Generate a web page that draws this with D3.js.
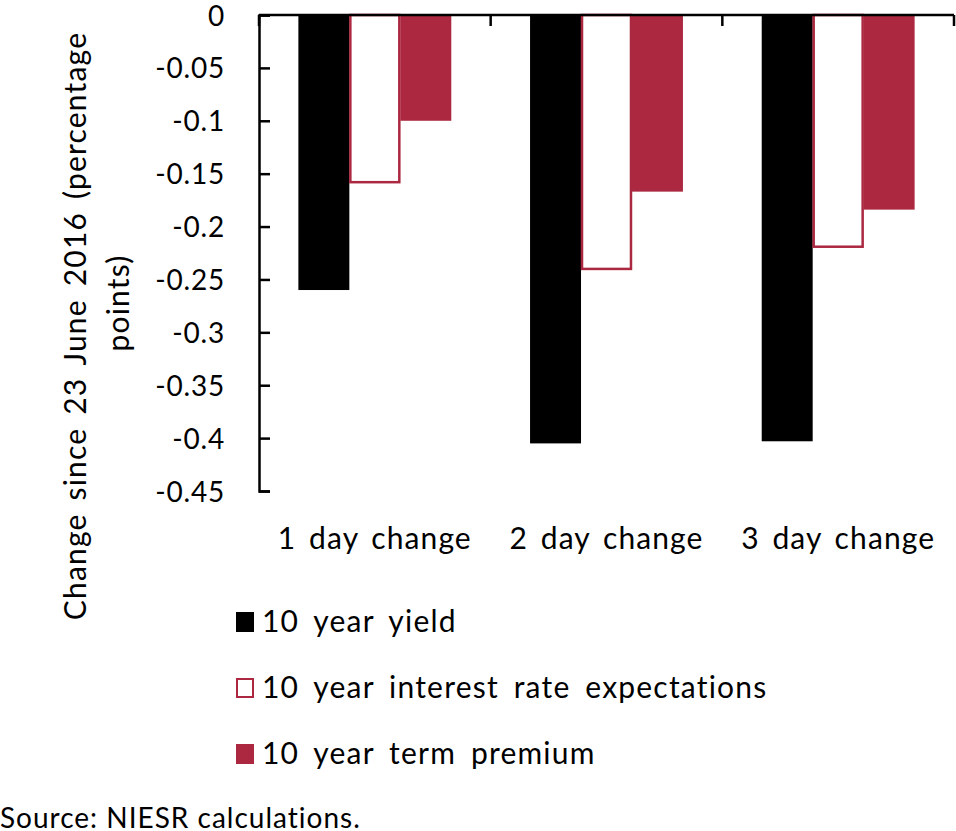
<!DOCTYPE html>
<html>
<head>
<meta charset="utf-8">
<script src="https://cdn.jsdelivr.net/npm/d3@7"></script>
<style>
  body { margin: 0; background: #fff; }
  text { font-family: Lato, "Open Sans", sans-serif; fill: #000; }
</style>
</head>
<body>
<div id="chart"></div>
<script>
// data
const categories = ["1 day change", "2 day change", "3 day change"];
const seriesNames = ["10 year yield", "10 year interest rate expectations", "10 year term premium"];
const yieldVals = [-0.26, -0.405, -0.403];
const expectVals = [-0.159, -0.241, -0.220];
const premiumVals = [-0.100, -0.167, -0.184];
const yTicks = [0, -0.05, -0.1, -0.15, -0.2, -0.25, -0.3, -0.35, -0.4, -0.45];

const red = "#AB2840";
const fills = ["#000000", "#ffffff", red];

const W = 956, H = 831;
const margin = {top: 15, right: 2, bottom: 340, left: 259};
const width = W - margin.left - margin.right,
    height = H - margin.top - margin.bottom;

const svg = d3.select("#chart")
  .append("svg")
    .attr("width", W)
    .attr("height", H);

const g = svg.append("g")
    .attr("transform", "translate(" + margin.left + "," + margin.top + ")");

// scales
const x0 = d3.scaleBand()
  .domain(categories)
  .range([0, width])
  .paddingInner(0.34)
  .paddingOuter(0.17);

const x1 = d3.scaleBand()
  .domain(seriesNames)
  .range([0, x0.bandwidth()])
  .padding(0);

const y = d3.scaleLinear()
  .domain([-0.45, 0])
  .range([height, 0]);

// build rows
const series = [yieldVals, expectVals, premiumVals];
const rows = categories.map(function(c, i) {
  return { group: c, values: seriesNames.map(function(s, j) { return {name: s, idx: j, value: series[j][i]}; }) };
});

// bars
const groups = g.selectAll(".grp")
  .data(rows)
  .enter().append("g")
    .attr("transform", function(d) { return "translate(" + x0(d.group) + ",0)"; });

groups.selectAll("rect")
  .data(function(d) { return d.values; })
  .enter().append("rect")
    .attr("x", function(d) { return x1(d.name) + (d.idx === 1 ? 1 : 0); })
    .attr("y", y(0))
    .attr("width", function(d) { return x1.bandwidth() - (d.idx === 1 ? 2 : 0); })
    .attr("height", function(d) { return y(d.value) - y(0) - (d.idx === 1 ? 1 : 0); })
    .attr("fill", function(d) { return fills[d.idx]; })
    .attr("stroke", function(d) { return d.idx === 1 ? red : "none"; })
    .attr("stroke-width", 2.5);

// y axis: ticks inward, plain hyphen for minus
const yAxis = g.append("g")
  .call(d3.axisLeft(y).tickValues(yTicks).tickSize(-11).tickPadding(34)
    .tickFormat(function(d) { return String(+d.toFixed(2)); }));
yAxis.select(".domain").attr("stroke", "#000").attr("stroke-width", 2.5);
yAxis.selectAll(".tick line").attr("stroke", "#000").attr("stroke-width", 2.5);
yAxis.selectAll(".tick text")
  .style("font-size", "28px")
  .style("letter-spacing", "0.8px")
  .attr("dy", "0.36em");

// category axis sits on the zero line, ticks inward at group boundaries
const step = x0.step();
const bounds = d3.range(categories.length + 1).map(function(i) { return i * step; });
g.append("line")
  .attr("x1", 0).attr("x2", width)
  .attr("y1", y(0)).attr("y2", y(0))
  .attr("stroke", "#000").attr("stroke-width", 2.5);
g.selectAll(".xtick")
  .data(bounds)
  .enter().append("line")
    .attr("x1", function(d) { return d; }).attr("x2", function(d) { return d; })
    .attr("y1", y(0)).attr("y2", y(0) + 11)
    .attr("stroke", "#000").attr("stroke-width", 2.5);

// category labels below the plot
g.selectAll(".cat")
  .data(categories)
  .enter().append("text")
    .attr("x", function(d) { return x0(d) + x0.bandwidth() / 2; })
    .attr("y", height + 58)
    .attr("text-anchor", "middle")
    .style("font-size", "30px")
    .style("letter-spacing", "1.1px")
    .style("word-spacing", "4px")
    .text(function(d) { return d; });

// y title, two lines
svg.append("text")
  .attr("transform", "translate(86,326) rotate(-90)")
  .attr("text-anchor", "middle")
  .style("font-size", "30px")
  .style("letter-spacing", "1.2px")
  .style("word-spacing", "4px")
  .text("Change since 23 June 2016 (percentage");
svg.append("text")
  .attr("transform", "translate(129,303) rotate(-90)")
  .attr("text-anchor", "middle")
  .style("font-size", "30px")
  .style("letter-spacing", "1.2px")
  .text("points)");

// legend
const legend = svg.selectAll(".leg")
  .data(seriesNames)
  .enter().append("g")
    .attr("transform", function(d, i) { return "translate(236," + (612 + i * 66) + ")"; });

legend.append("rect")
  .attr("x", function(d, i) { return i === 1 ? 1 : 0; })
  .attr("y", function(d, i) { return i === 1 ? 1 : 0; })
  .attr("width", function(d, i) { return i === 1 ? 16 : 18; })
  .attr("height", function(d, i) { return i === 1 ? 18 : 20; })
  .attr("fill", function(d, i) { return fills[i]; })
  .attr("stroke", function(d, i) { return i === 1 ? red : "none"; })
  .attr("stroke-width", 2);

legend.append("text")
  .attr("x", 26)
  .attr("y", 20)
  .style("font-size", "30px")
  .style("letter-spacing", "1.2px")
  .style("word-spacing", "6px")
  .text(function(d) { return d; });

// source note
svg.append("text")
  .attr("x", 0)
  .attr("y", 828)
  .style("font-size", "28px")
  .style("letter-spacing", "1px")
  .text("Source: NIESR calculations.");
</script>
</body>
</html>
